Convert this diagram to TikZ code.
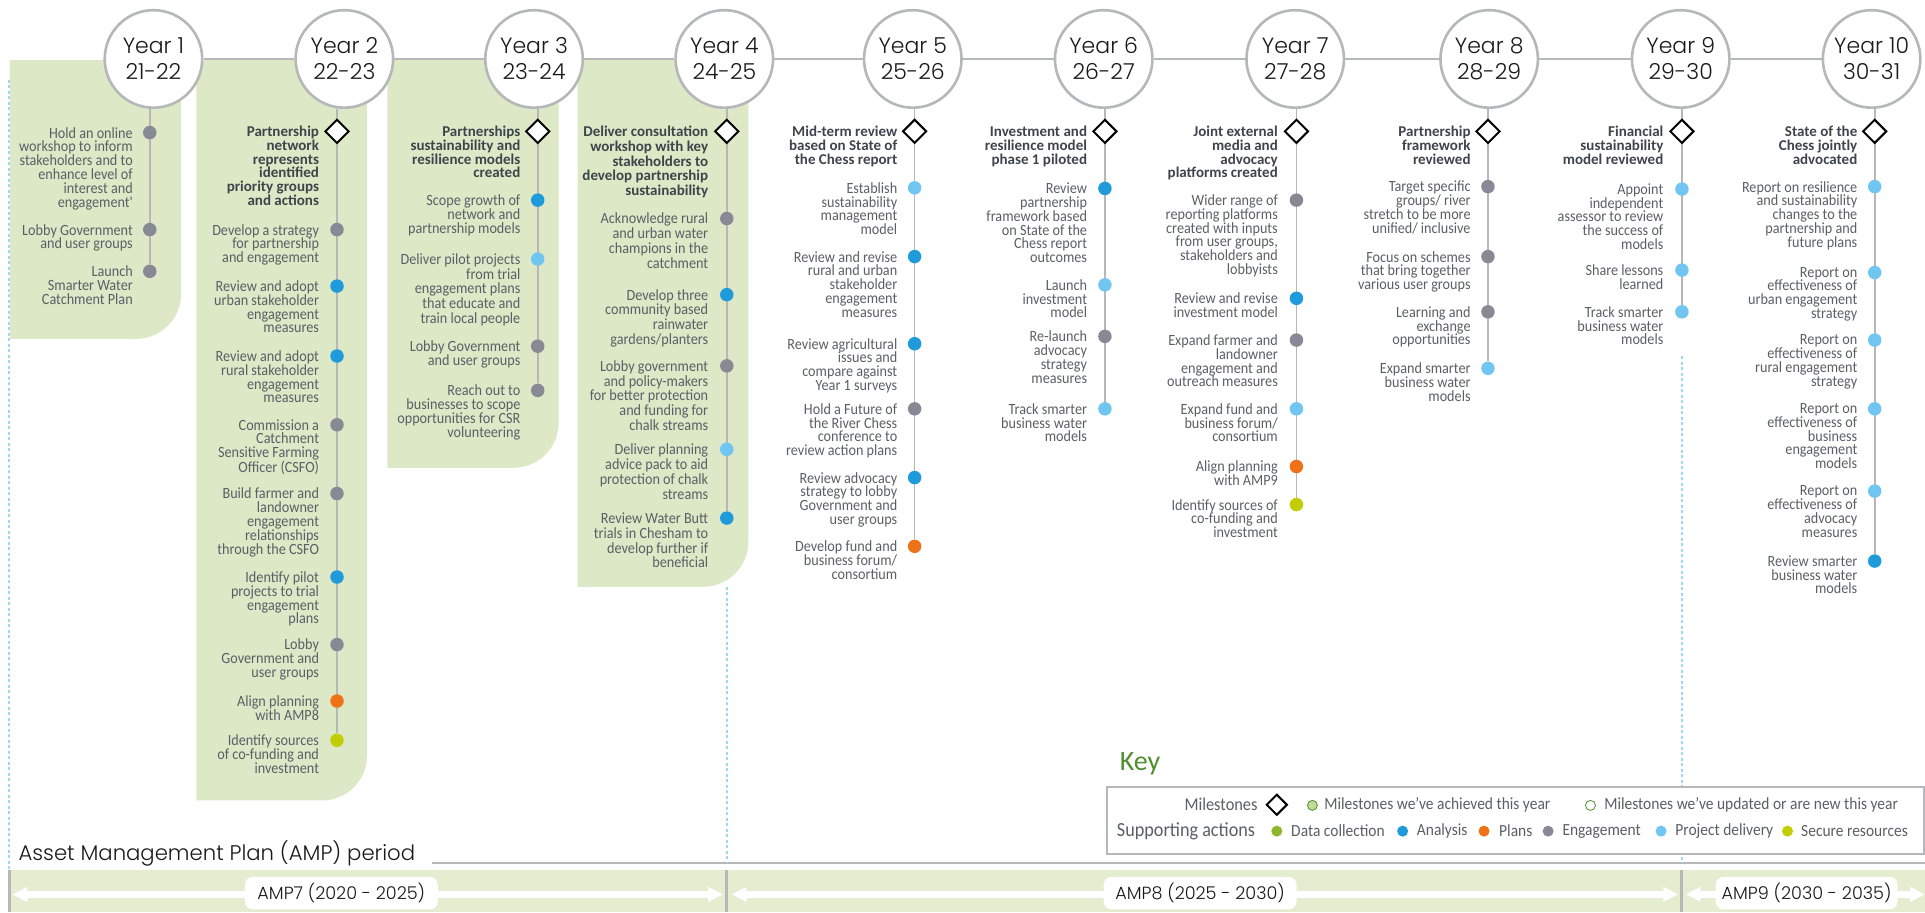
\documentclass[tikz,border=0pt]{standalone}
\usepackage{fontspec}
\setmainfont{Carlito}
\newfontfamily\narrowf{Carlito}[FakeStretch=0.91]
\newfontfamily\yrfont{Poppins}[UprightFont=* Light]
\usetikzlibrary{shapes.geometric,arrows.meta,backgrounds}
\definecolor{panelgreen}{HTML}{DDE8C6}
\definecolor{bandgreen}{HTML}{E4EDCF}
\definecolor{linegray}{HTML}{B6B7B9}
\definecolor{cEng}{HTML}{878A94}
\definecolor{cAna}{HTML}{1F9BDC}
\definecolor{cPla}{HTML}{EE7218}
\definecolor{cPro}{HTML}{70C6F1}
\definecolor{cSec}{HTML}{C2CD05}
\definecolor{cDat}{HTML}{8AB82A}
\definecolor{txtgray}{HTML}{5A5F66}
\definecolor{boldgray}{HTML}{3E444B}
\definecolor{keygreen}{HTML}{4F8F30}
\definecolor{dotblue}{HTML}{A0D8F3}
\def\actskip{13.8}
\tikzset{
 x=1.2277pt,y=-1.2277pt,
 yearnode/.style={circle,draw=linegray,line width=2.6pt,fill=white,minimum size=97.5pt,inner sep=0pt,align=center,font=\yrfont\fontsize{22}{26}\selectfont,text=black!90},
 actdot/.style={circle,minimum size=13.5pt,inner sep=0pt},
 acttext/.style={anchor=north east,inner sep=0pt,yshift=5.6pt,align=right,text=txtgray,font=\narrowf\fontsize{15.6}{\actskip}\selectfont},
 msdiamond/.style={diamond,aspect=1,draw=black,line width=2pt,fill=white,minimum size=24pt,inner sep=0pt},
 mstext/.style={acttext,text=boldgray,font=\bfseries\fontsize{15}{\actskip}\selectfont},
 vline/.style={draw=linegray,line width=1.7pt},
 dotted line/.style={draw=dotblue,line width=1.7pt,dash pattern=on 3pt off 2.5pt},
 panel/.style={fill=panelgreen},
 keytext/.style={inner sep=0pt,text=txtgray,font=\narrowf\fontsize{17}{18}\selectfont},
 keydot/.style={circle,minimum size=11pt,inner sep=0pt},
 amplabel/.style={fill=white,rounded corners=8pt,inner sep=0pt,text=black!90,font=\yrfont\fontsize{17.6}{20}\selectfont},
 amparrow/.style={draw=white,line width=7pt,{Triangle[length=15pt,width=14pt]}-{Triangle[length=15pt,width=14pt]}},
 ampbar/.style={draw=linegray,line width=3pt},
}
\newcommand\act[6]{\node[actdot,fill=#5] (#1) at (#2,#4) {};\node[acttext] (#1t) at (#3,#4) {#6};}
\newcommand\mst[5]{\node[msdiamond] (#1) at (#2,#4) {};\node[mstext] (#1t) at (#3,#4) {#5};}
\begin{document}
\begin{tikzpicture}
\useasboundingbox (0,0) rectangle (1568,743);
% panels
\begin{scope}[on background layer]
\fill[panel] (8,49) -- (147.5,49) [rounded corners=45pt] -- (147.5,276) [sharp corners] -- (8,276) -- cycle;
\fill[panel] (160,49) -- (299,49) [rounded corners=45pt] -- (299,652) [sharp corners] -- (160,652) -- cycle;
\fill[panel] (315.5,49) -- (455,49) [rounded corners=45pt] -- (455,381) [sharp corners] -- (315.5,381) -- cycle;
\fill[panel] (470.5,49) -- (609.5,49) [rounded corners=45pt] -- (609.5,478) [sharp corners] -- (470.5,478) -- cycle;
\end{scope}
% years
\node[yearnode] (y1) at (125,48) {Year 1\\21-22};
\node[yearnode] (y2) at (280.5,48) {Year 2\\22-23};
\node[yearnode] (y3) at (435,48) {Year 3\\23-24};
\node[yearnode] (y4) at (590,48) {Year 4\\24-25};
\node[yearnode] (y5) at (743.5,48) {Year 5\\25-26};
\node[yearnode] (y6) at (899,48) {Year 6\\26-27};
\node[yearnode] (y7) at (1055,48) {Year 7\\27-28};
\node[yearnode] (y8) at (1213,48) {Year 8\\28-29};
\node[yearnode] (y9) at (1369,48) {Year 9\\29-30};
\node[yearnode] (y10) at (1524.5,48) {Year 10\\30-31};
% Year 1
\act{a1}{122}{108.3}{108}{cEng}{Hold an online\\workshop to inform\\stakeholders and to\\enhance level of\\interest and\\engagement'}
\act{a2}{122}{108.3}{187}{cEng}{Lobby Government\\and user groups}
\act{a3}{122}{108.3}{221}{cEng}{Launch\\Smarter Water\\Catchment Plan}
% Year 2
\mst{b0}{274.5}{260}{107}{Partnership\\network\\represents\\identified\\priority groups\\and actions}
\act{b1}{274.5}{260}{187}{cEng}{Develop a strategy\\for partnership\\and engagement}
\act{b2}{274.5}{260}{233}{cAna}{Review and adopt\\urban stakeholder\\engagement\\measures}
\act{b3}{274.5}{260}{290}{cAna}{Review and adopt\\rural stakeholder\\engagement\\measures}
\act{b4}{274.5}{260}{346}{cEng}{Commission a\\Catchment\\Sensitive Farming\\Officer (CSFO)}
\act{b5}{274.5}{260}{402}{cEng}{Build farmer and\\landowner\\engagement\\relationships\\through the CSFO}
\act{b6}{274.5}{260}{470}{cAna}{Identify pilot\\projects to trial\\engagement\\plans}
\act{b7}{274.5}{260}{525}{cEng}{Lobby\\Government and\\user groups}
\act{b8}{274.5}{260}{571}{cPla}{Align planning\\with AMP8}
\act{b9}{274.5}{260}{603}{cSec}{Identify sources\\of co-funding and\\investment}
% Year 3
\mst{c0}{438}{424}{107}{Partnerships\\sustainability and\\resilience models\\created}
\act{c1}{438}{424}{163}{cAna}{Scope growth of\\network and\\partnership models}
\def\actskip{14.7}
\act{c2}{438}{424}{211}{cPro}{Deliver pilot projects\\from trial\\engagement plans\\that educate and\\train local people}
\def\actskip{13.8}
\act{c3}{438}{424}{282}{cEng}{Lobby Government\\and user groups}
\act{c4}{438}{424}{318}{cEng}{Reach out to\\businesses to scope\\opportunities for CSR\\volunteering}
% Year 4
\def\actskip{14.8}
\mst{d0}{592}{577}{107}{Deliver consultation\\workshop with key\\stakeholders to\\develop partnership\\sustainability}
\act{d1}{592}{577}{178}{cEng}{Acknowledge rural\\and urban water\\champions in the\\catchment}
\act{d2}{592}{577}{240}{cAna}{Develop three\\community based\\rainwater\\gardens/planters}
\act{d3}{592}{577}{298}{cEng}{Lobby government\\and policy-makers\\for better protection\\and funding for\\chalk streams}
\act{d4}{592}{577}{366}{cPro}{Deliver planning\\advice pack to aid\\protection of chalk\\streams}
\act{d5}{592}{577}{422}{cAna}{Review Water Butt\\trials in Chesham to\\develop further if\\beneficial}
\def\actskip{13.8}
% Year 5
\mst{e0}{745}{731}{107}{Mid-term review\\based on State of\\the Chess report}
\act{e1}{745}{731}{153}{cPro}{Establish\\sustainability\\management\\model}
\act{e2}{745}{731}{209}{cAna}{Review and revise\\rural and urban\\stakeholder\\engagement\\measures}
\act{e3}{745}{731}{280}{cAna}{Review agricultural\\issues and\\compare against\\Year 1 surveys}
\act{e4}{745}{731}{333}{cEng}{Hold a Future of\\the River Chess\\conference to\\review action plans}
\act{e5}{745}{731}{389}{cAna}{Review advocacy\\strategy to lobby\\Government and\\user groups}
\act{e6}{745}{731}{445}{cPla}{Develop fund and\\business forum/\\consortium}
% Year 6
\mst{f0}{900}{885.6}{107}{Investment and\\resilience model\\phase 1 piloted}
\act{f1}{900}{885.6}{153.5}{cAna}{Review\\partnership\\framework based\\on State of the\\Chess report\\outcomes}
\act{f2}{900}{885.6}{232}{cPro}{Launch\\investment\\model}
\act{f3}{900}{885.6}{274}{cEng}{Re-launch\\advocacy\\strategy\\measures}
\act{f4}{900}{885.6}{333}{cPro}{Track smarter\\business water\\models}
% Year 7
\mst{g0}{1056}{1041}{107}{Joint external\\media and\\advocacy\\platforms created}
\act{g1}{1056}{1041}{163}{cEng}{Wider range of\\reporting platforms\\created with inputs\\from user groups,\\stakeholders and\\lobbyists}
\act{g2}{1056}{1041}{243}{cAna}{Review and revise\\investment model}
\act{g3}{1056}{1041}{277}{cEng}{Expand farmer and\\landowner\\engagement and\\outreach measures}
\act{g4}{1056}{1041}{333}{cPro}{Expand fund and\\business forum/\\consortium}
\act{g5}{1056}{1041}{380}{cPla}{Align planning\\with AMP9}
\act{g6}{1056}{1041}{411}{cSec}{Identify sources of\\co-funding and\\investment}
% Year 8
\mst{h0}{1212}{1198}{107}{Partnership\\framework\\reviewed}
\act{h1}{1212}{1198}{152}{cEng}{Target specific\\groups/ river\\stretch to be more\\unified/ inclusive}
\act{h2}{1212}{1198}{209}{cEng}{Focus on schemes\\that bring together\\various user groups}
\act{h3}{1212}{1198}{254}{cEng}{Learning and\\exchange\\opportunities}
\act{h4}{1212}{1198}{300}{cPro}{Expand smarter\\business water\\models}
% Year 9
\mst{i0}{1370}{1355}{107}{Financial\\sustainability\\model reviewed}
\act{i1}{1370}{1355}{154}{cPro}{Appoint\\independent\\assessor to review\\the success of\\models}
\act{i2}{1370}{1355}{220}{cPro}{Share lessons\\learned}
\act{i3}{1370}{1355}{254}{cPro}{Track smarter\\business water\\models}
% Year 10
\mst{j0}{1527}{1513}{107}{State of the\\Chess jointly\\advocated}
\act{j1}{1527}{1513}{152}{cPro}{Report on resilience\\and sustainability\\changes to the\\partnership and\\future plans}
\act{j2}{1527}{1513}{222}{cPro}{Report on\\effectiveness of\\urban engagement\\strategy}
\act{j3}{1527}{1513}{277}{cPro}{Report on\\effectiveness of\\rural engagement\\strategy}
\act{j4}{1527}{1513}{333}{cPro}{Report on\\effectiveness of\\business\\engagement\\models}
\act{j5}{1527}{1513}{400}{cPro}{Report on\\effectiveness of\\advocacy\\measures}
\act{j6}{1527}{1513}{457}{cAna}{Review smarter\\business water\\models}
% Key
\node[inner sep=0pt,anchor=west,text=keygreen,font=\fontsize{28}{30}\selectfont] (keyhead) at (912,622.5) {Key};
\node[draw=linegray,line width=2.2pt,fill=white,minimum width=817pt,minimum height=67pt,inner sep=0pt,anchor=north west] (keybox) at (901,640) {};
\node[keytext,anchor=east,font=\narrowf\fontsize{18}{18}\selectfont] (k1) at (1024.5,655) {Milestones};
\node[msdiamond,minimum size=21pt] (k2) at (1040,655.5) {};
\node[keydot,fill=panelgreen!70!cDat,draw=keygreen,line width=.8pt,minimum size=10pt] (k3) at (1069,656) {};
\node[keytext,anchor=west] (k4) at (1078.6,656) {Milestones we’ve achieved this year};
\node[keydot,fill=white,draw=keygreen,line width=.8pt,minimum size=10pt] (k5) at (1295.5,656) {};
\node[keytext,anchor=west] (k6) at (1306.6,656) {Milestones we’ve updated or are new this year};
\node[keytext,anchor=west,font=\narrowf\fontsize{20}{20}\selectfont] (k7) at (909.6,677) {Supporting actions};
\node[keydot,fill=cDat] (k8) at (1040,677) {};
\node[keytext,anchor=west] (k9) at (1051.6,677) {Data collection};
\node[keydot,fill=cAna] (k10) at (1142.5,677) {};
\node[keytext,anchor=west] (k11) at (1154,677) {Analysis};
\node[keydot,fill=cPla] (k12) at (1208.8,677) {};
\node[keytext,anchor=west] (k13) at (1221,677) {Plans};
\node[keydot,fill=cEng] (k14) at (1261,677) {};
\node[keytext,anchor=west] (k15) at (1272.6,677) {Engagement};
\node[keydot,fill=cPro] (k16) at (1353,677) {};
\node[keytext,anchor=west] (k17) at (1364.5,677) {Project delivery};
\node[keydot,fill=cSec] (k18) at (1456,677) {};
\node[keytext,anchor=west] (k19) at (1467,677) {Secure resources};
% AMP
\node[inner sep=0pt,anchor=base west,text=black!90,font=\yrfont\fontsize{21.2}{24}\selectfont] (amphead) at (15,701) {Asset Management Plan (AMP) period};
\coordinate (rule0) at (352,703);
\coordinate (rule1) at (1568,703);
\begin{scope}[on background layer]
\fill[bandgreen] (8,709) rectangle (1568,743);
\draw[draw=linegray,line width=1.3pt] (rule0) -- (rule1);
\draw[ampbar] (7.5,709) -- (7.5,743);
\draw[ampbar] (592,709) -- (592,743);
\draw[ampbar] (1370,709) -- (1370,743);
\draw[dotted line] (7.5,65) -- (7.5,709);
\draw[dotted line] (592,478) -- (592,703);
\draw[dotted line] (1370,290) -- (1370,703);
\foreach \p/\q in {y1/y2,y2/y3,y3/y4,y4/y5,y5/y6,y6/y7,y7/y8,y8/y9,y9/y10}{\draw[vline] (\p) -- (\q);}
\draw[vline] (a1 |- y1.south) -- (a3);
\draw[vline] (b0 |- y2.south) -- (b9);
\draw[vline] (c0 |- y3.south) -- (c4);
\draw[vline] (d0 |- y4.south) -- (d5);
\draw[vline] (e0 |- y5.south) -- (e6);
\draw[vline] (f0 |- y6.south) -- (f4);
\draw[vline] (g0 |- y7.south) -- (g6);
\draw[vline] (h0 |- y8.south) -- (h4);
\draw[vline] (i0 |- y9.south) -- (i3);
\draw[vline] (j0 |- y10.south) -- (j6);
\draw[amparrow] (10,728.5) -- (589,728.5);
\draw[amparrow] (596,728.5) -- (1367,728.5);
\draw[amparrow] (1373,728.5) -- (1568,728.5);
\end{scope}
\node[amplabel,minimum width=193pt,minimum height=32.5pt] (amp7) at (278,727.5) {AMP7 (2020 - 2025)};
\node[amplabel,minimum width=193pt,minimum height=32.5pt] (amp8) at (977.5,727.5) {AMP8 (2025 - 2030)};
\node[amplabel,minimum width=182pt,minimum height=32.5pt] (amp9) at (1471.5,727.5) {AMP9 (2030 - 2035)};
\end{tikzpicture}
\end{document}
